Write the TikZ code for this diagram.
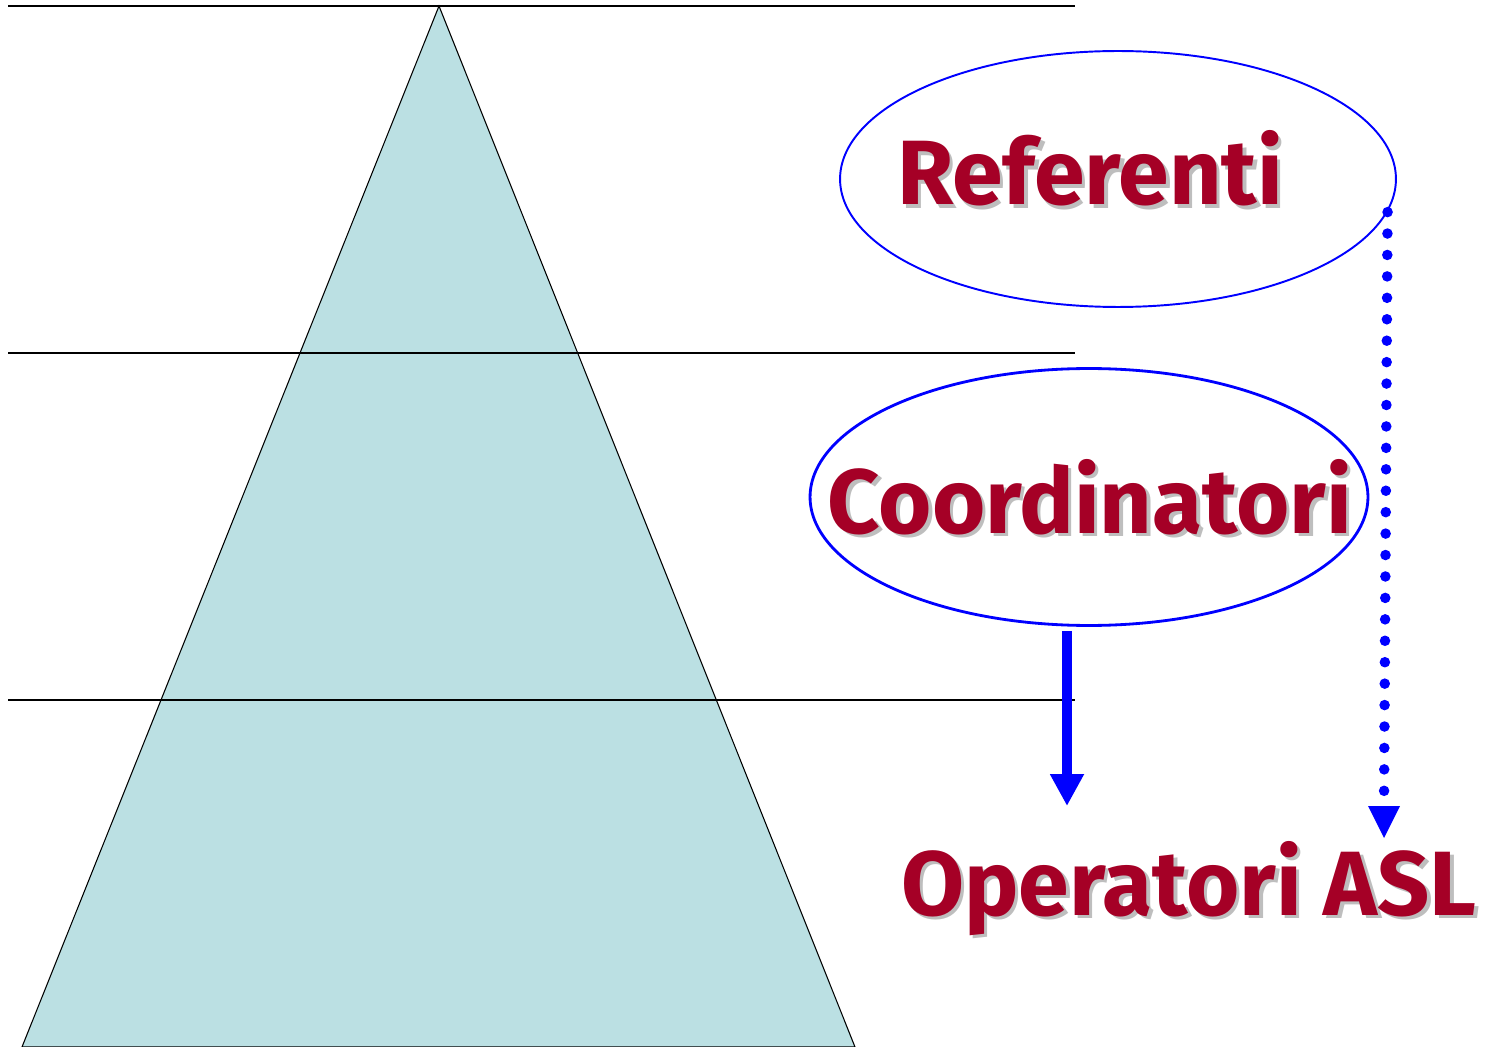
\documentclass[tikz,border=0pt]{standalone}
\usepackage{fontspec}
\usepackage{tikz}
\usetikzlibrary{shapes.geometric}
\usetikzlibrary{arrows.meta}
\newfontfamily\labelfont{Fira Sans}
\definecolor{pyramidfill}{RGB}{187,224,227}
\definecolor{labelred}{RGB}{165,0,38}
\definecolor{labelshadow}{RGB}{190,190,190}
\newcommand{\droptext}[1]{\rlap{\kern0.07cm\raisebox{-0.07cm}{\textcolor{labelshadow}{#1}}}\textcolor{labelred}{#1}}

\begin{document}
\begin{tikzpicture}[x=0.02cm, y=-0.02cm,
		level label/.style = {draw = none, inner sep = 0pt, anchor = base, font = \labelfont\bfseries\fontsize{52}{60}\selectfont},
		group ring/.style = {ellipse, draw = blue, inner sep = 0pt}]
		\useasboundingbox (0,0) rectangle (1501,1047);
		% Pyramid
		\draw [fill = pyramidfill, line width = 0.6pt] (439,6) -- (855,1047) -- (22,1047) -- cycle;
		% Level lines
		\draw [line width = 0.6pt] (8,6) -- (1075,6);
		\draw [line width = 0.6pt] (8,353) -- (1075,353);
		\draw [line width = 0.6pt] (8,700) -- (1075,700);
		% Referenti ellipse
		\node [group ring, line width = 1.1pt, minimum width = 11.12cm, minimum height = 5.12cm] (ref ring) at (1118,179) {};
		% Coordinatori ellipse
		\node [group ring, line width = 1.6pt, minimum width = 11.16cm, minimum height = 5.14cm] (coord ring) at (1089,497) {};
		% Labels
		\node [level label] (ref text) at (1090,205) {\droptext{Referenti}};
		\node [level label] (coord text) at (1090,533) {\droptext{Coordinatori}};
		\node [level label] (asl text) at (1189,915) {\droptext{Operatori ASL}};
		% Arrow ends
		\coordinate (coord tip) at (1067,806);
		\coordinate (ref tip) at (1384,838);
		% Coordinatori to operatori
		\draw [-{Triangle[length = 0.64cm, width = 0.64cm]}, blue, line width = 0.2cm] (coord ring.south -| coord tip) ++(0,4) -- (coord tip);
		% Referenti to operatori
		\draw [blue, line width = 6pt, line cap = round, dash pattern = on 0pt off 12.2pt] (ref ring.-7.9) -- ([yshift = 0.64cm] ref tip);
		\fill [blue] (ref tip) -- ++(-16,-32) -- ++(32,0) -- cycle;
\end{tikzpicture}
\end{document}
